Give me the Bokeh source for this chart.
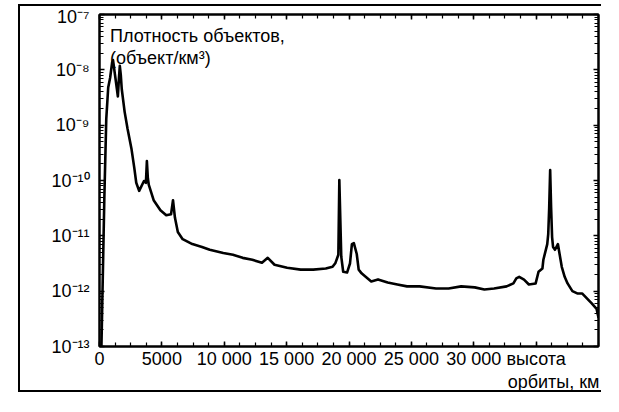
from bokeh.plotting import figure
from bokeh.models import (LinearAxis, LogAxis, FixedTicker, Label,
                          CustomJSTickFormatter, Range1d, CustomLabelingPolicy)
from bokeh.embed import file_html
from bokeh.resources import INLINE

# ---- data ----
altitude_km = [155, 388, 543, 698, 853, 1008, 1085, 1240, 1395, 1473, 1550, 1628,
               1705, 1783, 2015, 2248, 2558, 2791, 2946, 3178, 3566, 3721, 3798,
               3876, 3953, 4341, 4884, 5349, 5736, 5892, 6046, 6279, 6667, 7442,
               8217, 8837, 9923, 10698, 11473, 12248, 13023, 13488, 14031, 15039,
               16124, 17132, 18140, 18683, 18915, 19147, 19225, 19380, 19535,
               19845, 20078, 20233, 20388, 20621, 20776, 21008, 21240, 21783,
               22326, 23101, 23876, 24651, 25659, 26977, 27985, 28992, 30078,
               30853, 31628, 32636, 33179, 33411, 33644, 34031, 34419, 34962,
               35194, 35504, 35582, 35892, 35970, 36047, 36125, 36202, 36280,
               36357, 36512, 36745, 36822, 37055, 37288, 37520, 37907, 38295,
               38683, 39070, 39458, 39845, 40000]
density = [1.0e-13, 4.9e-11, 1.3e-9, 4.8e-9, 7.2e-9, 1.34e-8, 1.5e-8, 8.2e-9, 4.5e-9,
           3.3e-9, 6.6e-9, 1.18e-8, 8.2e-9, 4.5e-9, 1.74e-9, 8.6e-10, 3.8e-10,
           1.67e-10, 9.1e-11, 6.5e-11, 9.8e-11, 9.1e-11, 2.24e-10, 1.1e-10, 8.3e-11,
           4.4e-11, 2.9e-11, 2.35e-11, 2.45e-11, 4.4e-11, 2.14e-11, 1.17e-11, 8.7e-12,
           7.1e-12, 6.3e-12, 5.6e-12, 4.9e-12, 4.55e-12, 4.0e-12, 3.7e-12, 3.26e-12,
           4.0e-12, 3.0e-12, 2.65e-12, 2.45e-12, 2.45e-12, 2.56e-12, 2.76e-12,
           3.24e-12, 4.55e-12, 1.02e-10, 4.2e-12, 2.24e-12, 2.17e-12, 3.16e-12,
           7.1e-12, 7.4e-12, 4.7e-12, 2.45e-12, 2.1e-12, 1.9e-12, 1.5e-12, 1.63e-12,
           1.44e-12, 1.32e-12, 1.22e-12, 1.22e-12, 1.12e-12, 1.12e-12, 1.22e-12,
           1.17e-12, 1.07e-12, 1.12e-12, 1.22e-12, 1.38e-12, 1.7e-12, 1.82e-12,
           1.62e-12, 1.32e-12, 1.38e-12, 2.24e-12, 2.56e-12, 3.7e-12, 7.1e-12,
           1.07e-11, 3.2e-11, 1.55e-10, 3.2e-11, 9.5e-12, 6.3e-12, 5.6e-12, 7.1e-12,
           5.6e-12, 2.76e-12, 1.82e-12, 1.38e-12, 1.0e-12, 9.1e-13, 9.1e-13, 7.4e-13,
           6.0e-13, 4.8e-13, 3.3e-13]

x_major_ticks = [0, 5000, 10000, 15000, 20000, 25000, 30000, 35000]
x_tick_labels = ["0", "5000", "10 000", "15 000", "20 000", "25 000", "30 000", "высота"]
xlabel2_pos = [36400]
xlabel2_text = ["орбиты, км"]
y_exponents = [-13, -12, -11, -10, -9, -8, -7]
title_lines = ["Плотность объектов,", "(объект/км³)"]

FONT = "Liberation Sans"

p = figure(width=583, height=388, x_range=Range1d(0, 40000),
           y_range=Range1d(1e-13, 1e-7), y_axis_type="log",
           output_backend="svg", toolbar_location=None,
           min_border_left=79, min_border_right=1, min_border_top=8,
           min_border_bottom=36)
p.margin = (4, 0, 0, 18)
p.styles = {"border-left": "2px solid black", "border-top": "2px solid black",
            "border-bottom": "2px solid black"}

p.grid.visible = False
p.outline_line_color = "black"
p.outline_line_width = 2
p.background_fill_color = "white"
p.border_fill_color = "white"

x_minor = [i * 1250 for i in range(0, 33)]
y_major = [10.0 ** e for e in y_exponents]
y_minor = [m * 10.0 ** e for e in y_exponents[:-1] for m in range(2, 10)]

xt = FixedTicker(ticks=x_major_ticks, minor_ticks=x_minor)
yt = FixedTicker(ticks=y_major, minor_ticks=y_minor)


def list_formatter(vals, labs):
    return CustomJSTickFormatter(args=dict(v=vals, l=labs), code="""
        const i = v.indexOf(Math.round(tick));
        return i >= 0 ? l[i] : "";
    """)


xfmt = list_formatter(x_major_ticks, x_tick_labels)
yfmt = CustomJSTickFormatter(code="""
    const e = Math.round(Math.log10(tick));
    const sup = {"-": "\u207b", "0": "\u2070", "1": "\u00b9", "2": "\u00b2", "3": "\u00b3",
                 "4": "\u2074", "5": "\u2075", "6": "\u2076", "7": "\u2077", "8": "\u2078", "9": "\u2079"};
    return "10" + String(e).split("").map(c => sup[c]).join("");
""")
no_labels = CustomLabelingPolicy(code="""
    const all = [...indices];
    for (const i of all) indices.unset(i);
    return indices;
""")


def style_axis(ax, labels=True):
    ax.axis_line_width = 2
    ax.axis_line_color = "black"
    ax.major_tick_in = 5
    ax.major_tick_out = 0
    ax.minor_tick_in = 4
    ax.minor_tick_out = 0
    ax.major_tick_line_width = 1.5
    ax.minor_tick_line_width = 1.2
    ax.major_label_text_font = FONT
    ax.major_label_text_color = "black"
    if labels:
        ax.major_label_text_font_size = "18px"
    else:
        ax.major_label_text_font_size = "1px"
        ax.major_label_policy = no_labels
        ax.major_label_standoff = 0


xa = p.xaxis[0]
xa.ticker = xt
xa.formatter = xfmt
style_axis(xa)
xa.major_label_standoff = 2

# second label row below the tick labels ("орбиты, км")
xa2 = LinearAxis(ticker=FixedTicker(ticks=xlabel2_pos, minor_ticks=[]),
                 formatter=list_formatter(xlabel2_pos, xlabel2_text))
xa2.axis_line_color = None
xa2.major_tick_line_color = None
xa2.minor_tick_line_color = None
xa2.major_tick_in = 0
xa2.major_tick_out = 0
xa2.major_label_standoff = 0
xa2.major_label_text_font = FONT
xa2.major_label_text_font_size = "18px"
xa2.major_label_text_color = "black"
p.add_layout(xa2, "below")

ya = p.yaxis[0]
ya.ticker = yt
ya.formatter = yfmt
style_axis(ya)
ya.major_label_standoff = 10

top = LinearAxis(ticker=xt, formatter=xfmt)
style_axis(top, labels=False)
p.add_layout(top, "above")
right = LogAxis(ticker=yt, formatter=yfmt)
style_axis(right, labels=False)
p.add_layout(right, "right")

p.line(altitude_km, density, line_color="black", line_width=2.6, line_join="round")

p.add_layout(Label(x=850, y=4.05e-8, text=title_lines[0], text_font=FONT,
                   text_font_size="18px", text_color="black",
                   text_baseline="alphabetic"))
p.add_layout(Label(x=850, y=1.64e-8, text=title_lines[1], text_font=FONT,
                   text_font_size="18px", text_color="black",
                   text_baseline="alphabetic"))

open("out.html", "w").write(file_html(p, INLINE))
